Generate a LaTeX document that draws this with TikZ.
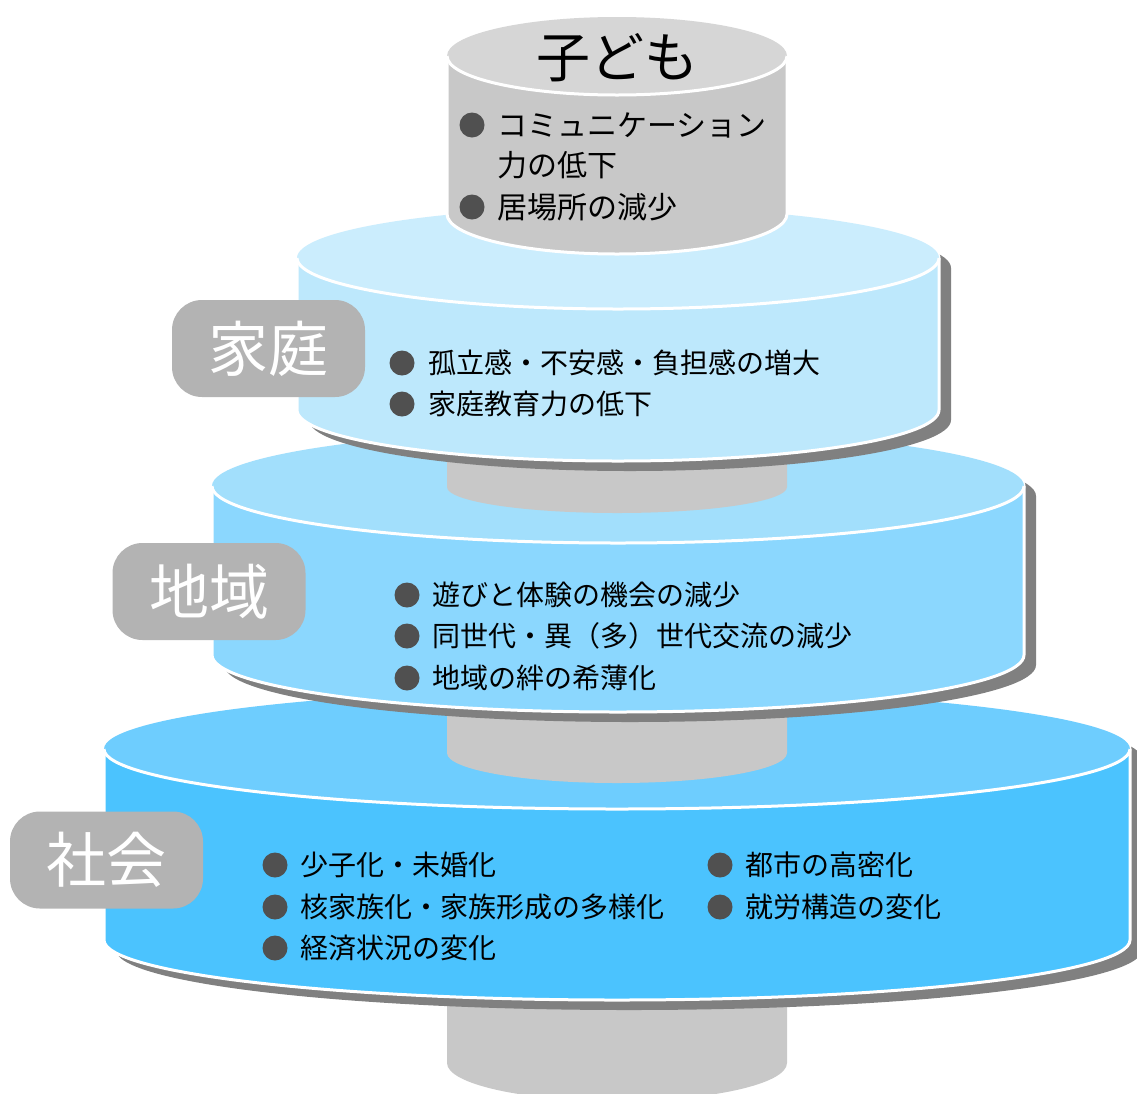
\documentclass[tikz,border=0pt]{standalone}
\usepackage{fontspec}
\setmainfont{Noto Sans CJK JP}
\usepackage{tikz}

\definecolor{shadowgray}{HTML}{808080}
\definecolor{pillargray}{HTML}{C8C8C8}
\definecolor{childtop}{HTML}{D6D6D6}
\definecolor{tagbox}{HTML}{B3B3B3}
\definecolor{dotgray}{HTML}{505050}
\definecolor{familytop}{HTML}{CBEDFD}
\definecolor{familyside}{HTML}{BDE8FC}
\definecolor{areatop}{HTML}{A2DFFC}
\definecolor{areaside}{HTML}{8BD7FE}
\definecolor{societytop}{HTML}{6ECDFE}
\definecolor{societyside}{HTML}{4BC3FE}

\tikzset{
    dot/.style={circle,fill=dotgray,inner sep=0pt,minimum size=25pt},
    item/.style={anchor=west,inner sep=0pt,font=\fontsize{28}{28}\selectfont},
    tag/.style={fill=tagbox,rounded corners=30pt,minimum width=193pt,minimum height=97pt,
        text=white,font=\fontsize{60}{60}\selectfont}
}

\begin{document}
\begin{tikzpicture}[x=1pt,y=-1pt]
	\useasboundingbox (0,0) rectangle (1137,1093);

	% cx, top y, bottom y, rx, ry, top colour, side colour
	\def\disc#1#2#3#4#5#6#7{%
		\fill[shadowgray] (#1-#4+12,#2+10) arc[start angle=180,end angle=0,x radius=#4pt,y radius=#5pt]
			-- (#1+#4+12,#3+10) arc[start angle=0,end angle=-180,x radius=#4pt,y radius=#5pt] -- cycle;
		\filldraw[fill=#7,draw=white,line width=3pt] (#1-#4,#2) arc[start angle=180,end angle=0,x radius=#4pt,y radius=#5pt]
			-- (#1+#4,#3) arc[start angle=0,end angle=-180,x radius=#4pt,y radius=#5pt] -- cycle;
		\fill[#6] (#1,#2) ellipse[x radius=#4pt,y radius=#5pt];
		\draw[white,line width=3pt] (#1-#4,#2) arc[start angle=180,end angle=360,x radius=#4pt,y radius=#5pt];
	}
	\def\pillar#1#2#3{%
		\fill[pillargray] (447,#1) -- (447,#2) arc[start angle=180,end angle=360,x radius=170pt,y radius=#3pt]
			-- (787,#1) -- cycle;
	}

	\pillar{900}{1063}{38}
	\disc{617}{749}{940}{513}{60}{societytop}{societyside}
	\pillar{700}{753}{30}
	\disc{618}{486}{655}{406}{57}{areatop}{areaside}
	\pillar{450}{487}{26}
	\disc{618}{258}{410}{321}{51}{familytop}{familyside}

	% child
	\filldraw[fill=pillargray,draw=white,line width=3pt] (447,56) arc[start angle=180,end angle=0,x radius=170pt,y radius=39pt]
		-- (787,214) arc[start angle=0,end angle=-180,x radius=170pt,y radius=40pt] -- cycle;
	\fill[childtop] (617,56) ellipse[x radius=170pt,y radius=39pt];
	\draw[white,line width=3pt] (447,56) arc[start angle=180,end angle=360,x radius=170pt,y radius=39pt];

	\node (kidtitle) at (617,58) {\fontsize{54}{54}\selectfont 子ども};
	\node[dot] (kd1) at (472,125) {};
	\node[item,font=\fontsize{30}{30}\selectfont] (kt1) at (497,125) {コミュニケーション};
	\node[item,font=\fontsize{30}{30}\selectfont] (kt1b) at (497,165) {力の低下};
	\node[dot] (kd2) at (472,207) {};
	\node[item,font=\fontsize{30}{30}\selectfont] (kt2) at (497,207) {居場所の減少};

	% family
	\node[tag] (family) at (268.5,348.5) {家庭};
	\node[dot] (fd1) at (402,363) {};
	\node[item] (ft1) at (428,363) {孤立感・不安感・負担感の増大};
	\node[dot] (fd2) at (402,404) {};
	\node[item] (ft2) at (428,404) {家庭教育力の低下};

	% area
	\node[tag] (area) at (209,591.5) {地域};
	\node[dot] (ad1) at (407,595) {};
	\node[item] (at1) at (432,595) {遊びと体験の機会の減少};
	\node[dot] (ad2) at (407,636) {};
	\node[item] (at2) at (432,636) {同世代・異（多）世代交流の減少};
	\node[dot] (ad3) at (407,678) {};
	\node[item] (at3) at (432,678) {地域の絆の希薄化};

	% society
	\node[tag] (society) at (106.5,860) {社会};
	\node[dot] (sd1) at (275,865) {};
	\node[item] (st1) at (300,865) {少子化・未婚化};
	\node[dot] (sd2) at (275,907) {};
	\node[item] (st2) at (300,907) {核家族化・家族形成の多様化};
	\node[dot] (sd3) at (275,948) {};
	\node[item] (st3) at (300,948) {経済状況の変化};
	\node[dot] (sd4) at (720,865) {};
	\node[item] (st4) at (745,865) {都市の高密化};
	\node[dot] (sd5) at (720,907) {};
	\node[item] (st5) at (745,907) {就労構造の変化};
\end{tikzpicture}
\end{document}
